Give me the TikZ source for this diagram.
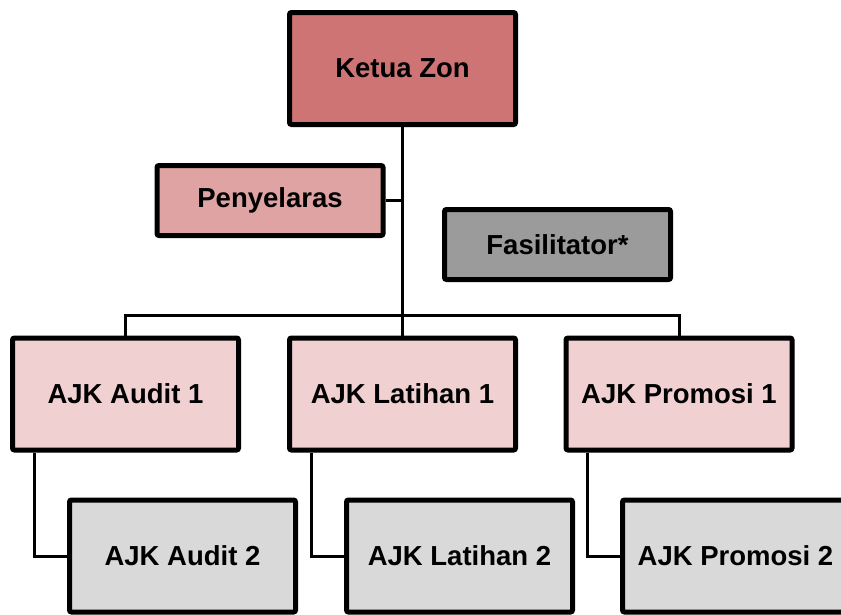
\documentclass[tikz,border=0pt]{standalone}
\usepackage{fontspec}
\setmainfont{Liberation Sans}
\usetikzlibrary{positioning, shadows}
\definecolor{zon-red}{RGB}{207,116,117}
\definecolor{zon-rose}{RGB}{224,163,163}
\definecolor{zon-pink}{RGB}{240,208,209}
\definecolor{zon-grey}{RGB}{155,155,155}
\definecolor{zon-light}{RGB}{217,217,217}

\begin{document}
\begin{tikzpicture}
    [x=1pt, y=-1pt,
    box/.style = {rectangle, draw, line width=5pt, align=center,
            minimum width=226pt, minimum height=112pt, rounded corners=2pt,
            font=\fontsize{27.5}{32}\selectfont\bfseries,
            drop shadow={opacity=0.25, shadow xshift=2pt, shadow yshift=-2pt}},
    small/.style = {box, minimum height=70pt},
    link/.style = {line width=3pt},
    ]

\useasboundingbox (0,0) rectangle (841,614);
\clip (0,0) rectangle (841,614);

\node[box, fill=zon-red] (kz) at (402.5, 68.5) {Ketua Zon};
\node[small, fill=zon-rose] (pen) at (270, 200.5) {Penyelaras};
\node[small, fill=zon-grey] (fas) at (557.5, 244.5) {Fasilitator*};

\node[box, fill=zon-pink] (aud1) at (125.5, 394) {AJK Audit 1};
\node[box, fill=zon-pink] (lat1) at (402.5, 394) {AJK Latihan 1};
\node[box, fill=zon-pink] (pro1) at (679, 394) {AJK Promosi 1};
\node[box, fill=zon-light] (aud2) at (182.5, 556) {AJK Audit 2};
\node[box, fill=zon-light] (lat2) at (459.5, 556) {AJK Latihan 2};
\node[box, fill=zon-light] (pro2) at (735.5, 556) {AJK Promosi 2};

\coordinate (bar) at (402.5, 315);

\draw[link] (kz.south) -- (lat1.north);
\draw[link] (pen.east) -- (pen.east -| kz.south);
\draw[link] (aud1.north) |- (bar) -| (pro1.north);
\draw[link] ([xshift=24pt]aud1.south west) |- (aud2.west);
\draw[link] ([xshift=24pt]lat1.south west) |- (lat2.west);
\draw[link] ([xshift=24pt]pro1.south west) |- (pro2.west);

\end{tikzpicture}
\end{document}
